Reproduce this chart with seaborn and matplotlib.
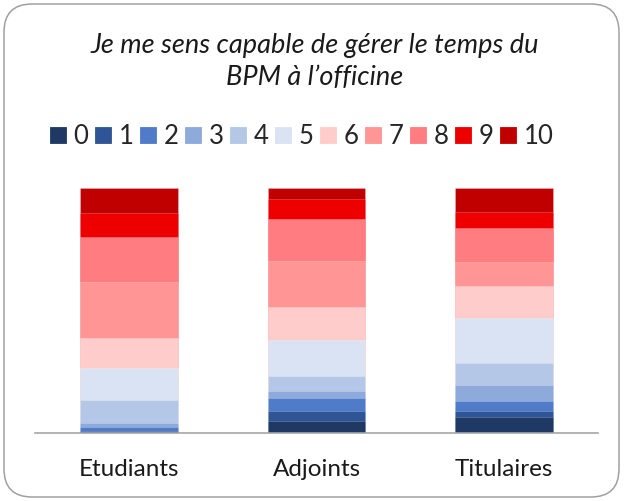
import matplotlib
matplotlib.use("Agg")
import matplotlib.pyplot as plt
from matplotlib.lines import Line2D
from matplotlib.patches import FancyBboxPatch
import numpy as np
import pandas as pd
import seaborn as sns

# Response groups and score levels
categories = ["Etudiants", "Adjoints", "Titulaires"]
levels = ["0", "1", "2", "3", "4", "5", "6", "7", "8", "9", "10"]

# Share of answers (%) per score level, for each group
share_0 = [0.0, 4.9, 6.5]
share_1 = [0.8, 4.0, 2.6]
share_2 = [1.5, 5.4, 4.0]
share_3 = [1.9, 2.7, 6.7]
share_4 = [9.4, 6.4, 8.9]
share_5 = [13.1, 14.6, 18.1]
share_6 = [12.3, 13.5, 13.1]
share_7 = [22.8, 18.7, 10.1]
share_8 = [18.4, 17.2, 13.9]
share_9 = [9.7, 8.0, 6.3]
share_10 = [10.2, 4.6, 9.9]

level_colors = ["#1F3864", "#2F5597", "#4F7BC9", "#8EAADB", "#B4C7E7",
                "#DAE3F3", "#FFCCCC", "#FF9595", "#FF7C80", "#EE0000", "#C00000"]

shares = [share_0, share_1, share_2, share_3, share_4, share_5,
          share_6, share_7, share_8, share_9, share_10]

df = pd.DataFrame({lvl: vals for lvl, vals in zip(levels, shares)}, index=categories)
cum = df.cumsum(axis=1)
# normalise so each stack reaches 100 %
cum = cum.div(cum.iloc[:, -1], axis=0) * 100

sns.set_theme(style="white")
plt.rcParams["font.family"] = ["Lato", "DejaVu Sans"]

fig = plt.figure(figsize=(6.24, 5.02), dpi=100)
ax = fig.add_axes([35 / 624, 1 - 434 / 502, 563 / 624, 245 / 502])

# Stacked bars: draw cumulative totals from the top level down
for i in range(len(levels) - 1, -1, -1):
    sns.barplot(x=categories, y=cum.iloc[:, i].values, color=level_colors[i],
                width=0.52, ax=ax, saturation=1, linewidth=0.4,
                edgecolor=(1, 1, 1, 0.35))

ax.set_xlim(-0.5, 2.5)
ax.set_ylim(0, 100)
ax.set_yticks([])
for side in ["left", "right", "top"]:
    ax.spines[side].set_visible(False)
ax.spines["bottom"].set_color("#A6A6A6")
ax.spines["bottom"].set_linewidth(1.2)
ax.tick_params(axis="x", length=0, labelsize=17.5, pad=18, labelcolor="#1a1a1a")
ax.set_xlabel("")
ax.set_ylabel("")

fig.text(0.505, 1 - 45 / 502, "Je me sens capable de gérer le temps du",
         ha="center", va="center", fontsize=19.5, style="italic", color="#1a1a1a")
fig.text(0.505, 1 - 77 / 502, "BPM à l\u2019officine",
         ha="center", va="center", fontsize=19.5, style="italic", color="#1a1a1a")

handles = [Line2D([], [], marker="s", linestyle="none", markersize=11,
                  markerfacecolor=c, markeredgecolor=c, markeredgewidth=0.6)
           for c in level_colors]
fig.legend(handles, levels, loc="center", bbox_to_anchor=(0.484, 1 - 137 / 502),
           ncol=11, frameon=False, fontsize=18.5, handlelength=0.6,
           handletextpad=0.3, columnspacing=0.27, borderpad=0)

# Rounded frame around the chart
frame = FancyBboxPatch((4 / 624, 4 / 502), 615 / 624, 493 / 502,
                       boxstyle="round,pad=0,rounding_size=0.045",
                       transform=fig.transFigure, facecolor="none",
                       edgecolor="#A0A0A0", linewidth=1.1, mutation_aspect=624 / 502)
fig.patches.append(frame)

fig.savefig("out.png", dpi=100)
